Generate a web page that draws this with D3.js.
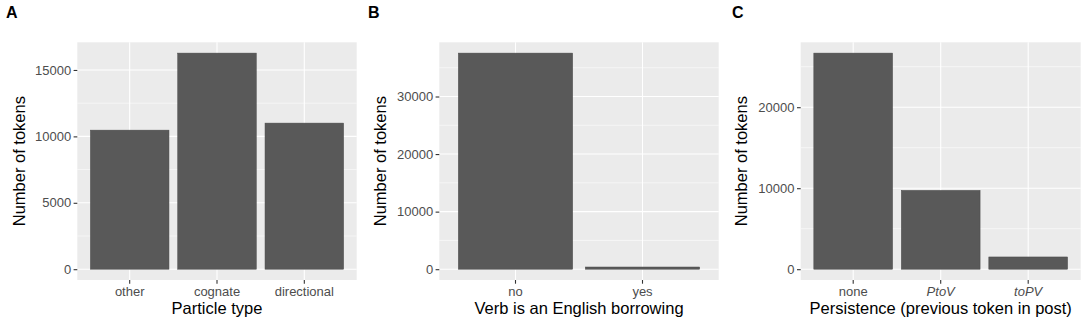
<!DOCTYPE html>
<html lang="en">
<head>
  <meta charset="UTF-8">
  <title>Token counts</title>
  <style>
    body { margin:0; background:#fff; overflow:hidden; }
    #chart { display:block; font-family:"Liberation Sans", Arial, sans-serif; }
    .title { fill:#000; font-size:16.5px; text-anchor:middle; }
    .label { fill:#000; font-size:16px; font-weight:bold; }
  </style>
</head>
<body>
  <svg id="chart" width="1084" height="324"></svg>
  <script src="https://d3js.org/d3.v7.min.js"></script>
  <script>
    // panel A
    const particleTypes = ['other', 'cognate', 'directional'];
    const particleCounts = [10470, 16270, 11000];
    // panel B
    const borrowing = ['no', 'yes'];
    const borrowingCounts = [37540, 380];
    // panel C
    const persistence = ['none', 'PtoV', 'toPV'];
    const persistenceCounts = [26680, 9730, 1510];
    const italicCats = ['PtoV', 'toPV'];

    const svg = d3.select('#chart');
    const plotTop = 42.3, plotBottom = 280;

    const panels = [
      {tag:'A', cats:particleTypes, vals:particleCounts, xTitle:'Particle type', breaks:[0,5000,10000,15000], step:5000,
       left:77.3, right:356.7, tagX:6, yTitleX:24.5},
      {tag:'B', cats:borrowing, vals:borrowingCounts, xTitle:'Verb is an English borrowing', breaks:[0,10000,20000,30000], step:10000,
       left:439.3, right:718.7, tagX:368, yTitleX:385.5},
      {tag:'C', cats:persistence, vals:persistenceCounts, xTitle:'Persistence (previous token in post)', breaks:[0,10000,20000], step:10000,
       left:800.7, right:1080.7, tagX:732, yTitleX:747}
    ];

    function styleTicks(sel) {
      sel.select('.domain').remove();
      sel.attr('font-size', null).attr('font-family', null);
      sel.selectAll('.tick line').attr('stroke', '#333').attr('stroke-width', 1.1);
      sel.selectAll('.tick text').attr('fill', '#4d4d4d')
        .style('font-size', '13px').style('font-family', '"Liberation Sans", Arial, sans-serif');
    }

    panels.forEach(p => {
      const g = svg.append('g');
      const max = d3.max(p.vals);
      const y = d3.scaleLinear().domain([-max*0.05, max*1.05]).range([plotBottom, plotTop]);
      const x = d3.scaleBand().domain(p.cats).range([p.left, p.right]).paddingInner(0.1).paddingOuter(0.15);
      const cx = d => x(d) + x.bandwidth()/2;

      // background
      g.append('rect').attr('x', p.left).attr('y', plotTop)
        .attr('width', p.right - p.left).attr('height', plotBottom - plotTop).attr('fill', '#ebebeb');

      // minor grid
      const minor = [];
      for (let v = p.step/2; v < y.domain()[1]; v += p.step) minor.push(v);
      g.selectAll('.minor').data(minor).join('line')
        .attr('x1', p.left).attr('x2', p.right)
        .attr('y1', d => y(d)).attr('y2', d => y(d))
        .attr('stroke', '#fff').attr('stroke-width', 0.55);

      // major grid
      g.selectAll('.major').data(p.breaks).join('line')
        .attr('x1', p.left).attr('x2', p.right)
        .attr('y1', d => y(d)).attr('y2', d => y(d))
        .attr('stroke', '#fff').attr('stroke-width', 1.1);
      g.selectAll('.vgrid').data(p.cats).join('line')
        .attr('x1', cx).attr('x2', cx)
        .attr('y1', plotTop).attr('y2', plotBottom)
        .attr('stroke', '#fff').attr('stroke-width', 1.1);

      // bars
      g.selectAll('.bar').data(p.cats).join('rect')
        .attr('x', d => x(d)).attr('width', x.bandwidth())
        .attr('y', (d, i) => y(p.vals[i]))
        .attr('height', (d, i) => y(0) - y(p.vals[i]))
        .attr('fill', '#595959').attr('stroke', '#4a4a4a').attr('stroke-width', 0.5);

      // axes
      const ya = g.append('g').attr('transform', `translate(${p.left},0)`)
        .call(d3.axisLeft(y).tickValues(p.breaks).tickFormat(d3.format('d')).tickSize(3.7).tickPadding(2.5));
      styleTicks(ya);

      const xa = g.append('g').attr('transform', `translate(0,${plotBottom})`)
        .call(d3.axisBottom(x).tickSize(3.7).tickPadding(3.5));
      styleTicks(xa);
      xa.selectAll('.tick text').style('font-style', d => italicCats.includes(d) ? 'italic' : 'normal');

      // titles
      g.append('text').attr('class', 'title')
        .attr('x', (p.left + p.right)/2).attr('y', 314)
        .text(p.xTitle);
      g.append('text').attr('class', 'title')
        .attr('transform', `translate(${p.yTitleX},${(plotTop + plotBottom)/2}) rotate(-90)`)
        .text('Number of tokens');
      g.append('text').attr('class', 'label')
        .attr('x', p.tagX).attr('y', 18.3)
        .text(p.tag);
    });
  </script>
</body>
</html>
